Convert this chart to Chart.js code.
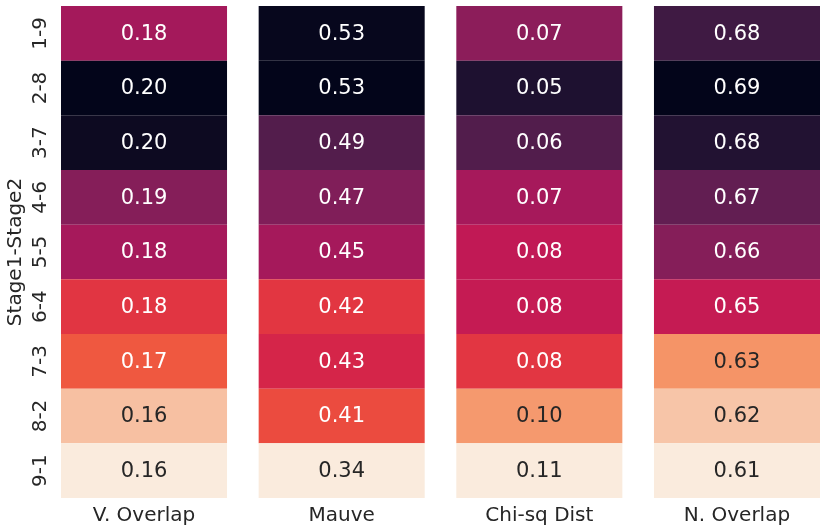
<!DOCTYPE html>
<html><head><meta charset="utf-8">
<script src="https://cdn.jsdelivr.net/npm/chart.js@4.4.1/dist/chart.umd.min.js"></script>
<style>html,body{margin:0;padding:0;background:#fff}#wrap{width:823px;height:531px;position:relative}</style>
</head><body><div id="wrap"><canvas id="c"></canvas></div>
<script>
// ---- data ----
const rowLabels = ['1-9','2-8','3-7','4-6','5-5','6-4','7-3','8-2','9-1'];
const metrics = ['V. Overlap','Mauve','Chi-sq Dist','N. Overlap'];
const vOverlap = [0.1822,0.2000,0.1985,0.1856,0.1820,0.1753,0.1720,0.1644,0.1600];
const mauve    = [0.531,0.534,0.490,0.468,0.449,0.416,0.4252,0.406,0.344];
const chiSq    = [0.0683,0.0504,0.0587,0.0728,0.0773,0.0779,0.0837,0.0958,0.1080];
const nOverlap = [0.6756,0.6900,0.6812,0.6684,0.6612,0.6476,0.6260,0.6180,0.6100];
const shadeMin = [0.160,0.344,0.044,0.610];
const shadeMax = [0.200,0.534,0.108,0.690];
const darkWhenHigh = [true,true,false,true];
const columns = [vOverlap, mauve, chiSq, nOverlap];

// ---- rocket-like colormap ----
const rocketStops = ['#03051A','#100C24','#1E1130','#32183C','#471C47','#5A1E4F','#6D1F56','#811E59','#941C5B','#A6195B','#B8175A','#CE1D4E','#DE2F44','#E8403E','#EF5840','#F37651','#F59467','#F6AD8A','#F7C5A8','#F9D8C5','#FAEBDD'];
function hexToRgb(h){return [parseInt(h.slice(1,3),16),parseInt(h.slice(3,5),16),parseInt(h.slice(5,7),16)];}
function cmap(t){
  t=Math.max(0,Math.min(1,t));
  const n=rocketStops.length-1, p=t*n, i=Math.min(n-1,Math.floor(p)), f=p-i;
  const a=hexToRgb(rocketStops[i]), b=hexToRgb(rocketStops[i+1]);
  return a.map((v,k)=>Math.round(v+(b[k]-v)*f));
}
function lum(rgb){
  const c=rgb.map(v=>{v/=255;return v<=0.03928?v/12.92:Math.pow((v+0.055)/1.055,2.4);});
  return 0.2126*c[0]+0.7152*c[1]+0.0722*c[2];
}
function cellRgb(col,v){
  let t=(v-shadeMin[col])/(shadeMax[col]-shadeMin[col]);
  if(darkWhenHigh[col]) t=1-t;
  return cmap(t);
}

const datasets = columns.map((vals,col)=>({
  label: metrics[col],
  data: vals.map((v,r)=>({x:col,y:[r,r+1]})),
  backgroundColor: vals.map(v=>{const c=cellRgb(col,v);return `rgb(${c[0]},${c[1]},${c[2]})`;}),
  borderWidth:0,
  grouped:false,
  categoryPercentage:1,
  barPercentage:0.84
}));

const annot = {
  id:'annot',
  afterDatasetsDraw(chart){
    const ctx=chart.ctx;
    ctx.save();
    ctx.font='21px "DejaVu Sans"';
    ctx.textAlign='center';ctx.textBaseline='middle';
    chart.data.datasets.forEach((ds,col)=>{
      const meta=chart.getDatasetMeta(col);
      meta.data.forEach((el,r)=>{
        const v=columns[col][r];
        const c=cellRgb(col,v);
        ctx.fillStyle = lum(c)>0.408 ? '#262626' : '#ffffff';
        ctx.fillText(v.toFixed(2), el.x, (el.y+el.base)/2+1);
      });
    });
    ctx.restore();
  }
};

Chart.defaults.font.family='"DejaVu Sans"';
Chart.defaults.color='#262626';

new Chart(document.getElementById('c'),{
  type:'bar',
  data:{datasets},
  plugins:[annot],
  options:{
    responsive:true,maintainAspectRatio:false,animation:false,
    layout:{padding:{top:6,right:3,left:0,bottom:0}},
    plugins:{legend:{display:false},tooltip:{enabled:false}},
    scales:{
      x:{type:'linear',min:-0.42,max:3.42,offset:false,
        grid:{display:false,drawTicks:false},border:{display:false},
        afterBuildTicks:(s)=>{s.ticks=metrics.map((m,i)=>({value:i}));},
        afterFit:(s)=>{s.height=33;s.paddingLeft=0;s.paddingRight=0;},
        ticks:{font:{size:20},padding:6,color:'#262626',maxRotation:0,autoSkip:false,
          callback:(v)=>metrics[Math.round(v)]}
      },
      y:{type:'linear',min:0,max:9,reverse:true,
        grid:{display:false,drawTicks:false},border:{display:false},
        afterBuildTicks:(s)=>{s.ticks=rowLabels.map((l,i)=>({value:i+0.5}));},
        afterFit:(s)=>{s.width=61;s.paddingTop=0;s.paddingBottom=0;},
        title:{display:true,text:'Stage1-Stage2',font:{size:20},color:'#262626',padding:{top:4,bottom:0}},
        ticks:{font:{size:20},padding:4,color:'#262626',minRotation:90,maxRotation:90,crossAlign:'center',autoSkip:false,
          callback:(v)=>rowLabels[Math.floor(v)]}
      }
    }
  }
});
</script></body></html>
